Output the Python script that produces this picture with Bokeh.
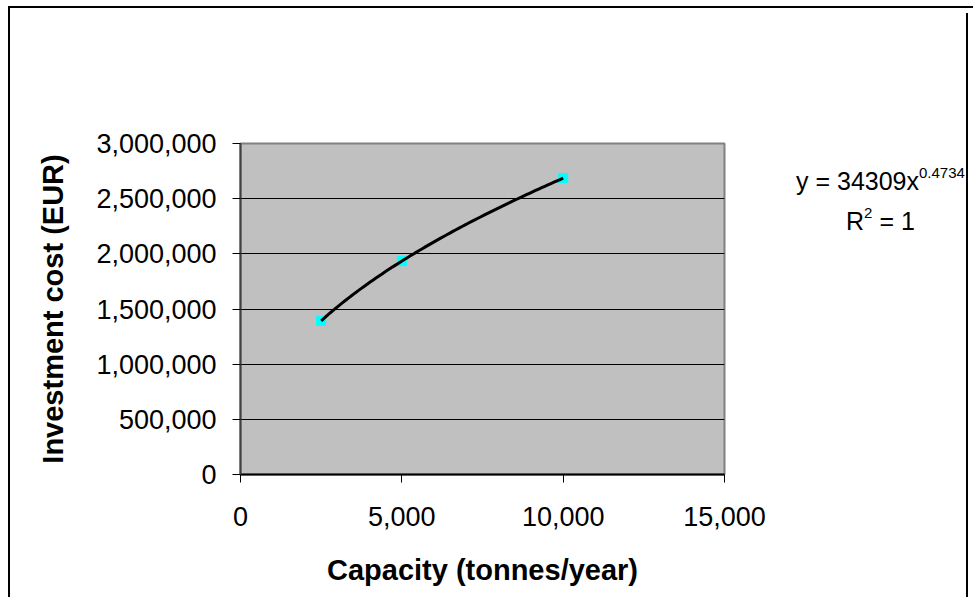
from bokeh.plotting import figure
from bokeh.layouts import row
from bokeh.models import (Range1d, FixedTicker, NumeralTickFormatter, Div,
                          ColumnDataSource)
from bokeh.embed import file_html
from bokeh.resources import INLINE
import numpy as np

# Plant capacity (tonnes/year) and investment cost (EUR)
capacity = [2500, 5000, 10000]
investment = [1393000, 1934000, 2686000]

# Power-law trendline coefficients, as printed in the equation box
trend_coef = 34309
trend_exp = 0.4734
trend_r2 = 1

x_ticks = [0, 5000, 10000, 15000]
y_ticks = [0, 500000, 1000000, 1500000, 2000000, 2500000, 3000000]

FONT = "Liberation Sans"

p = figure(width=781, height=589, output_backend="svg", toolbar_location=None,
           x_range=Range1d(x_ticks[0], x_ticks[-1]),
           y_range=Range1d(y_ticks[0], y_ticks[-1]),
           min_border_left=230, min_border_right=67,
           min_border_top=135, min_border_bottom=123)

p.background_fill_color = "#C0C0C0"
p.border_fill_color = "white"
p.outline_line_color = "#808080"
p.outline_line_width = 2

# horizontal gridlines only
p.xgrid.visible = False
p.ygrid.ticker = FixedTicker(ticks=y_ticks)
p.ygrid.grid_line_color = "black"
p.ygrid.grid_line_width = 1

for ax in (p.xaxis[0], p.yaxis[0]):
    ax.major_tick_in = 0
    ax.major_tick_out = 8
    ax.minor_tick_line_color = None
    ax.major_tick_line_color = "black"
    ax.major_label_text_font = FONT
    ax.major_label_text_font_size = "27px"
    ax.major_label_text_color = "black"
    ax.axis_label_text_font = FONT
    ax.axis_label_text_font_style = "bold"
    ax.axis_label_text_font_size = "29px"
    ax.axis_label_text_color = "black"
    ax.formatter = NumeralTickFormatter(format="0,0")

p.xaxis.ticker = FixedTicker(ticks=x_ticks)
p.yaxis.ticker = FixedTicker(ticks=y_ticks)
p.xaxis.axis_line_color = "black"
p.xaxis.axis_line_width = 2
p.yaxis.axis_line_color = "#404040"
p.yaxis.axis_line_width = 2
p.xaxis.major_label_standoff = 24
p.yaxis.major_label_standoff = 16
p.xaxis.axis_label = "Capacity (tonnes/year)"
p.yaxis.axis_label = "Investment cost (EUR)"
p.xaxis.axis_label_standoff = 25
p.yaxis.axis_label_standoff = 24

# data points
src = ColumnDataSource(dict(x=capacity, y=investment))
p.scatter("x", "y", source=src, marker="square", size=9,
          fill_color="#00FFFF", line_color="#00FFFF")

# fitted power-law trendline over the data span
tx = np.linspace(min(capacity), max(capacity), 80)
ty = trend_coef * tx ** trend_exp
p.line(tx, ty, line_color="black", line_width=3)

# trendline equation box beside the plot
sup = "font-size:15px;vertical-align:12px;line-height:0;"
eq_html = (
    f"<div style=\"font-family:'{FONT}',Arial,sans-serif;font-size:25px;"
    "color:black;text-align:center;line-height:40px;padding-top:148px;"
    "white-space:nowrap;\">"
    f"y = {trend_coef}x<span style=\"{sup}\">{trend_exp}</span><br>"
    f"R<span style=\"{sup}\">2</span> = {trend_r2}</div>"
)
eq = Div(text=eq_html, width=172, height=589,
         styles={"border-right": "2px solid black"})

chart = row(p, eq, styles={"margin-left": "8px", "margin-top": "6px",
                           "border-left": "2px solid black",
                           "border-top": "2px solid black"})

open("out.html", "w").write(file_html(chart, INLINE))
